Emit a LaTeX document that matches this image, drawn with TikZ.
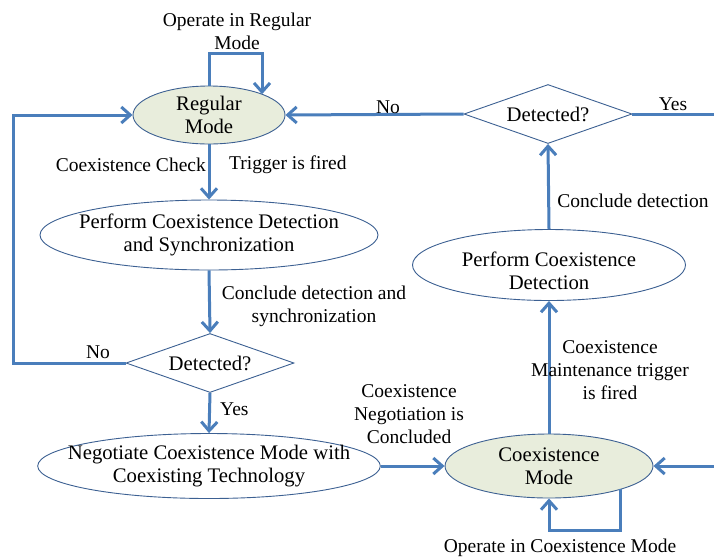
\documentclass[tikz,border=0pt]{standalone}
\usepackage{fontspec}
\setmainfont{Liberation Serif}
\usetikzlibrary{shapes.geometric,arrows.meta}
\definecolor{flowblue}{RGB}{74,126,187}
\definecolor{edgeblue}{RGB}{60,96,146}
\definecolor{modefill}{RGB}{232,237,220}

\begin{document}
\begin{tikzpicture}[x=1pt,y=-1pt,
		font=\fontsize{19.5}{23}\selectfont,
		mode/.style={ellipse,draw=edgeblue,line width=0.9pt,fill=modefill,inner xsep=-20pt,inner ysep=0pt,align=center,font=\fontsize{20.7}{23.5}\selectfont},
		proc/.style={ellipse,draw=edgeblue,line width=0.9pt,inner xsep=-20pt,inner ysep=0pt,align=center,font=\fontsize{20.7}{23.5}\selectfont},
		decide/.style={diamond,aspect=2.85,draw=edgeblue,line width=0.9pt,inner sep=0pt,minimum width=168pt,minimum height=59pt,font=\fontsize{20.7}{23.5}\selectfont},
		flow/.style={draw=flowblue,line width=3pt,-{Straight Barb[length=9pt,width=16pt]}},
		lbl/.style={align=center,inner sep=0pt}]
			\useasboundingbox (0,0) rectangle (714,558);

			% left column
			\node[mode,minimum width=152pt,minimum height=58pt] (reg) at (209,115) {Regular\\Mode};
			\node[proc,minimum width=338pt,minimum height=70pt] (detsync) at (209,235) {Perform Coexistence Detection\\and Synchronization};
			\node[decide] (dec1) at (210,363) {Detected?};
			\node[proc,minimum width=342pt,minimum height=65pt] (nego) at (209,466) {Negotiate Coexistence Mode with\\Coexisting Technology};

			% right column
			\node[mode,minimum width=208pt,minimum height=64pt] (coex) at (549,466) {Coexistence\\Mode};
			\node[proc,minimum width=273pt,minimum height=65pt,text height=50pt] (det) at (549,265) {Perform Coexistence\\Detection};
			\node[decide] (dec2) at (548,114) {Detected?};

			\coordinate (regloop) at (262,53);
			\coordinate (lefttop) at (13,115);
			\coordinate (yesend) at (714,114);
			\coordinate (rightin) at (714,466);
			\coordinate (coexloop) at (620,530);

			\draw[flow] (reg.north) |- (regloop) -- (regloop |- reg.21);
			\draw[flow] (reg.south) -- (detsync.north);
			\draw[flow] (detsync.south) -- (dec1.north);
			\draw[flow] (dec1.south) -- (nego.north);
			\draw[flow] (dec1.west) -| (lefttop) -- (reg.west);
			\draw[flow] (nego.east) -- (coex.west);
			\draw[flow] (coexloop |- coex.-18) -- (coexloop) -| (coex.south);
			\draw[flow] (rightin) -- (coex.east);
			\draw[flow] (coex.north) -- (det.south);
			\draw[flow] (det.north) -- (dec2.south);
			\draw[flow] (dec2.west) -- (reg.east);
			\draw[flow,-] (dec2.east) -- (yesend);

			\node[lbl] (opreg) at (237,31) {Operate in Regular\\Mode};
			\node[lbl,anchor=east] (chk) at (206,165) {Coexistence Check};
			\node[lbl,anchor=west] (trig) at (229,165) {Trigger is fired};
			\node[lbl] (concsync) at (314,306) {Conclude detection and\\synchronization};
			\node[lbl] (no1) at (98,352) {No};
			\node[lbl,anchor=west] (yes1) at (220,409) {Yes};
			\node[lbl] (negdone) at (409,414) {Coexistence\\Negotiation is\\Concluded};
			\node[lbl] (maint) at (610,370) {Coexistence\\Maintenance trigger\\is fired};
			\node[lbl] (concdet) at (633,201) {Conclude detection};
			\node[lbl] (no2) at (388,107) {No};
			\node[lbl] (yes2) at (673,104) {Yes};
			\node[lbl] (opcoex) at (560,548) {Operate in Coexistence Mode};
		\end{tikzpicture}
\end{document}
